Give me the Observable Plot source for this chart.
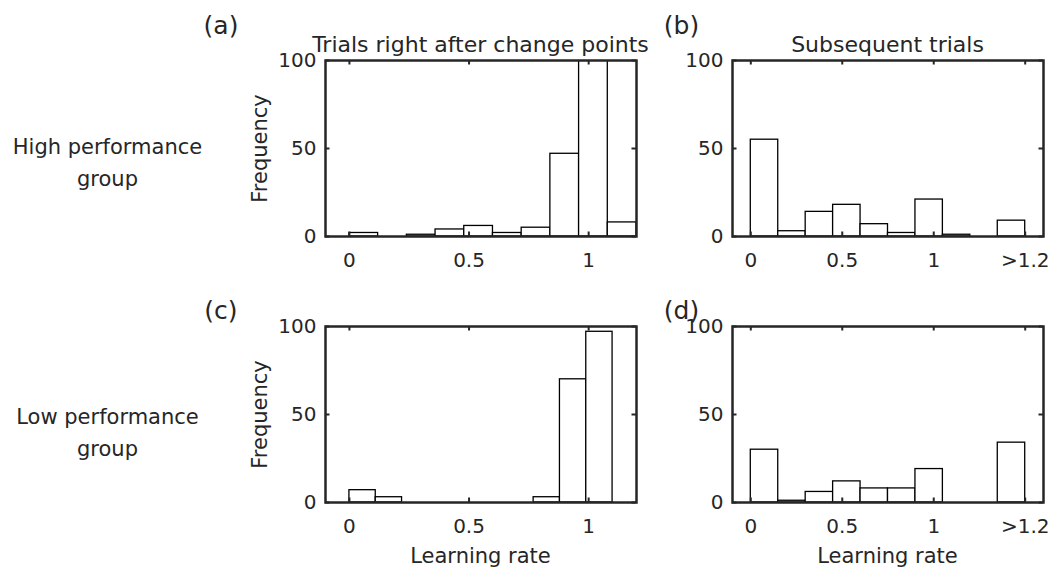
<!DOCTYPE html>
<html>
<head>
<meta charset="utf-8">
<script src="https://cdn.jsdelivr.net/npm/d3@7"></script>
<script src="https://cdn.jsdelivr.net/npm/@observablehq/plot@0.6"></script>
<style>
  html, body { margin: 0; padding: 0; background: white; }
  #root { position: relative; width: 1062px; height: 569px; overflow: hidden; background: white;
          font-family: "DejaVu Sans", sans-serif; color: #262626; }
  .lbl { position: absolute; white-space: nowrap; line-height: 1; }
  .panel { position: absolute; }
</style>
</head>
<body>
<div id="root"></div>
<script>
// ---------- data ----------
const edgesA = [0, 0.12, 0.24, 0.36, 0.48, 0.6, 0.72, 0.84, 0.96, 1.08, 1.2];
const countsA = [2, 0, 1, 4, 6, 2, 5, 47, 150, 8];

const edgesB = [0, 0.15, 0.3, 0.45, 0.6, 0.75, 0.9, 1.05, 1.2, 1.35, 1.5];
const countsB = [55, 3, 14, 18, 7, 2, 21, 1, 0, 9];

const edgesC = [0, 0.11, 0.22, 0.33, 0.44, 0.55, 0.66, 0.77, 0.88, 0.99, 1.1];
const countsC = [7, 3, 0, 0, 0, 0, 0, 3, 70, 97];

const edgesD = [0, 0.15, 0.3, 0.45, 0.6, 0.75, 0.9, 1.05, 1.2, 1.35, 1.5];
const countsD = [30, 1, 6, 12, 8, 8, 19, 0, 0, 34];

const xTicksLeft = [0, 0.5, 1];
const xTickLabelsLeft = ["0", "0.5", "1"];
const xTicksRight = [0, 0.5, 1, 1.5];
const xTickLabelsRight = ["0", "0.5", "1", ">1.2"];
const yTicks = [0, 50, 100];

const colTitles = ["Trials right after change points", "Subsequent trials"];
const rowLabels = [["High performance", "group"], ["Low performance", "group"]];
const panelLetters = ["(a)", "(b)", "(c)", "(d)"];
const xLabel = "Learning rate";
const yLabel = "Frequency";

// ---------- layout ----------
const ML = 60, MR = 12, MT = 12, MB = 40;
const innerW = 311, innerH = 176;
const boxLeft = [325, 732];
const boxTop = [60, 326];
const ink = "#262626";

function panel(edges, counts, xDomain, xTicks, xTickLabels) {
  const bins = counts.map((c, i) => ({x1: edges[i], x2: edges[i + 1], count: c})).filter(d => d.count > 0);
  const labelMap = new Map(xTicks.map((t, i) => [t, xTickLabels[i]]));
  return Plot.plot({
    width: innerW + ML + MR,
    height: innerH + MT + MB,
    marginLeft: ML, marginRight: MR, marginTop: MT, marginBottom: MB,
    style: {fontFamily: "DejaVu Sans", fontSize: "20px", color: ink, background: "transparent", overflow: "visible"},
    x: {domain: xDomain},
    y: {domain: [0, 100]},
    marks: [
      Plot.rect(bins, {x1: "x1", x2: "x2", y1: 0, y2: "count", fill: "white", stroke: "black", strokeWidth: 1.3, clip: true}),
      Plot.tickX(xTicks, {x: d => d, insetTop: innerH - 4.5, stroke: ink, strokeWidth: 2}),
      Plot.tickX(xTicks, {x: d => d, insetBottom: innerH - 4.5, stroke: ink, strokeWidth: 2}),
      Plot.tickY(yTicks, {y: d => d, insetRight: innerW - 4.5, stroke: ink, strokeWidth: 2}),
      Plot.tickY(yTicks, {y: d => d, insetLeft: innerW - 4.5, stroke: ink, strokeWidth: 2}),
      Plot.frame({stroke: ink, strokeWidth: 2.5}),
      Plot.axisX(xTicks, {tickSize: 0, tickPadding: 16, tickFormat: d => labelMap.get(d), label: null}),
      Plot.axisY(yTicks, {tickSize: 0, tickPadding: 9, label: null})
    ]
  });
}

const root = document.getElementById("root");
const specs = [
  [edgesA, countsA, [-0.1, 1.2], xTicksLeft, xTickLabelsLeft, 0, 0],
  [edgesB, countsB, [-0.1, 1.6], xTicksRight, xTickLabelsRight, 1, 0],
  [edgesC, countsC, [-0.1, 1.2], xTicksLeft, xTickLabelsLeft, 0, 1],
  [edgesD, countsD, [-0.1, 1.6], xTicksRight, xTickLabelsRight, 1, 1]
];
for (const [e, c, dom, t, tl, col, row] of specs) {
  const svg = panel(e, c, dom, t, tl);
  const wrap = document.createElement("div");
  wrap.className = "panel";
  wrap.style.left = (boxLeft[col] - ML) + "px";
  wrap.style.top = (boxTop[row] - MT) + "px";
  wrap.appendChild(svg);
  root.appendChild(wrap);
}

function addLabel(text, {left, top, width, size, align = "center", rotate = 0}) {
  const d = document.createElement("div");
  d.className = "lbl";
  d.textContent = text;
  d.style.left = left + "px";
  d.style.top = top + "px";
  d.style.width = width + "px";
  d.style.fontSize = size + "px";
  d.style.height = size + "px";
  d.style.textAlign = align;
  if (rotate) d.style.transform = `rotate(${rotate}deg)`;
  root.appendChild(d);
}

// column titles
colTitles.forEach((t, i) => {
  const cx = boxLeft[i] + innerW / 2;
  addLabel(t, {left: cx - 250, top: 33.5, width: 500, size: 22});
});
// panel letters
const letterCx = [221, 681.5];
const letterTop = [12.5, 297.5];
panelLetters.forEach((t, i) => {
  const col = i % 2, row = Math.floor(i / 2);
  addLabel(t, {left: letterCx[col] - 40, top: letterTop[row], width: 80, size: 25});
});
// row labels
const rowTop = [137, 407];
rowLabels.forEach((lines, r) => {
  lines.forEach((line, j) => {
    addLabel(line, {left: 0, top: rowTop[r] + j * 32, width: 215, size: 21});
  });
});
// y labels (Frequency) on the left column
boxTop.forEach(bt => {
  const cy = bt + innerH / 2;
  addLabel(yLabel, {left: 259.7 - 100, top: cy - 10.5, width: 200, size: 21, rotate: -90});
});
// x labels on bottom row
boxLeft.forEach(bl => {
  const cx = bl + innerW / 2;
  addLabel(xLabel, {left: cx - 150, top: 546, width: 300, size: 21});
});
</script>
</body>
</html>
